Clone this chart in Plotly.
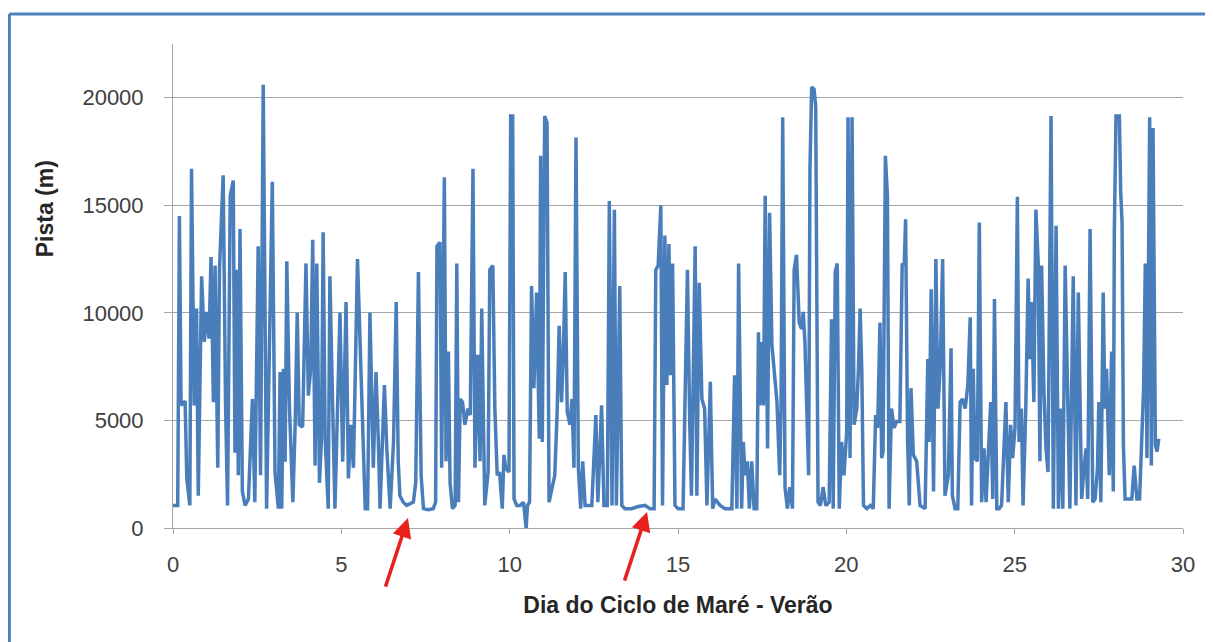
import plotly.graph_objects as go

# Day of tidal cycle (x) and track length in metres (y)
dia = [
    0.00, 0.14, 0.19, 0.24, 0.36, 0.41, 0.50, 0.55, 0.63, 0.70, 0.75, 0.85, 0.93, 1.00, 1.07,
    1.13, 1.20, 1.25, 1.33, 1.38, 1.49, 1.56, 1.62, 1.70, 1.79, 1.84, 1.89, 1.94, 1.99, 2.06,
    2.14, 2.24, 2.36, 2.43, 2.53, 2.60, 2.68, 2.78, 2.95, 3.03, 3.13,
    3.18, 3.23, 3.28, 3.33, 3.38, 3.46, 3.56, 3.63, 3.69, 3.75, 3.85, 3.95, 4.02, 4.09, 4.15,
    4.22, 4.27, 4.35, 4.41, 4.46, 4.52, 4.61, 4.66, 4.74, 4.81, 4.96, 5.04, 5.14, 5.21, 5.28,
    5.36, 5.48, 5.61, 5.71, 5.78, 5.85, 5.95, 6.03, 6.10, 6.15, 6.28, 6.35, 6.45, 6.55, 6.63,
    6.69, 6.74, 6.84, 6.94, 7.14, 7.21, 7.29, 7.37, 7.44, 7.58, 7.73, 7.80, 7.84, 7.93, 7.98,
    8.06, 8.11, 8.18, 8.23, 8.30, 8.38, 8.43, 8.48, 8.53, 8.60, 8.67, 8.76, 8.83, 8.91, 8.97,
    9.05, 9.12, 9.17, 9.26, 9.36, 9.41, 9.50, 9.56, 9.63, 9.70, 9.78, 9.83, 9.88, 9.98, 10.03,
    10.09, 10.13, 10.21, 10.31, 10.41, 10.49, 10.53, 10.59, 10.65, 10.72, 10.80, 10.88, 10.92,
    10.97, 11.04, 11.11, 11.17, 11.24, 11.34, 11.41, 11.47, 11.54, 11.59, 11.65, 11.71, 11.79,
    11.85, 11.91, 11.97, 12.04, 12.11, 12.17, 12.24, 12.34, 12.44, 12.56, 12.62, 12.73, 12.80,
    12.90, 12.96, 13.04, 13.11, 13.17, 13.27, 13.33,
    13.42, 13.62, 13.82, 14.02, 14.17, 14.29, 14.34, 14.41, 14.49, 14.54, 14.61, 14.67, 14.73,
    14.78, 14.84, 14.91, 15.00, 15.15, 15.28, 15.35, 15.40, 15.51, 15.56, 15.63, 15.71, 15.79,
    15.86, 15.96, 16.03, 16.10, 16.25, 16.40, 16.60, 16.68, 16.75, 16.80,
    16.89, 16.94, 16.99, 17.06, 17.12, 17.19, 17.26, 17.34, 17.39, 17.43, 17.49, 17.54, 17.59,
    17.66, 17.72, 17.79, 17.86, 17.94, 18.02, 18.06, 18.11, 18.18, 18.25, 18.32, 18.40, 18.45,
    18.52, 18.60, 18.67, 18.72, 18.77, 18.82, 18.88, 18.92, 18.97, 19.04, 19.09, 19.16, 19.23,
    19.31, 19.39, 19.49, 19.56, 19.61, 19.67, 19.73, 19.79, 19.86, 19.93, 20.01, 20.05, 20.11,
    20.17, 20.23, 20.31,
    20.36, 20.41, 20.46, 20.51, 20.61, 20.71, 20.80, 20.87, 20.93, 21.00, 21.05, 21.09, 21.16,
    21.22, 21.27, 21.34, 21.42, 21.49, 21.59, 21.66, 21.72, 21.76, 21.82, 21.87, 21.92, 21.99,
    22.09, 22.19, 22.34, 22.42, 22.46, 22.52, 22.59, 22.66, 22.72, 22.79, 22.86, 22.93, 23.03,
    23.11, 23.15, 23.23, 23.31, 23.38, 23.45, 23.53, 23.61, 23.68, 23.72, 23.77, 23.82,
    23.89, 23.95, 24.02, 24.09, 24.15, 24.22, 24.29, 24.35, 24.40, 24.47, 24.54, 24.61, 24.66,
    24.74, 24.81, 24.88, 24.94, 25.01, 25.08, 25.13, 25.20, 25.25, 25.33, 25.40, 25.45, 25.50,
    25.57, 25.63, 25.70, 25.75, 25.80, 25.87, 25.93, 25.99, 26.08, 26.15, 26.23, 26.30, 26.37,
    26.43, 26.50, 26.57, 26.64, 26.74, 26.82, 26.89,
    26.99, 27.06, 27.12, 27.17, 27.24, 27.32, 27.39, 27.46, 27.50, 27.56, 27.63, 27.68, 27.73,
    27.81, 27.88, 27.93, 27.96, 28.01, 28.11, 28.15, 28.19, 28.23, 28.28, 28.38, 28.48, 28.55,
    28.63, 28.71, 28.78, 28.83, 28.88, 28.93, 29.01, 29.06, 29.11, 29.18, 29.23, 29.28,
]

pista = [
    1050, 1050, 14500, 5700, 5900, 2300, 1050, 16700, 5700, 10200, 1500, 11700, 8650, 10050, 8800,
    12600, 5850, 12200, 2800, 12000, 16400, 5850, 1050, 15450, 16150, 3500, 12000, 2450, 13900, 1700,
    1050, 1350, 6000, 1200, 13100, 2450, 20600, 900, 16100, 2600, 900,
    7250, 900, 7400, 3080, 12400, 5550, 1200, 4900, 10000, 4800, 4700, 12300, 6150, 7400, 13400,
    2900, 12300, 2100, 4150, 13750, 4150, 900, 11700, 5850, 900, 10000, 3080, 10500, 2300, 4800,
    2800, 12500, 5550, 900, 900, 10000, 2800, 7250, 4000, 900, 6650, 3700, 900, 4000, 10500,
    3100, 1500, 1200, 1050, 1200, 2100, 11900, 2450, 900, 850, 900, 1200, 13100, 13280, 2800,
    16300, 3100, 8200, 2100, 900, 1050, 12300, 1200, 6000, 5850, 4800, 5550, 5250, 16700, 2800,
    8050, 3100, 10200, 1050, 2600, 12000, 12200, 5550, 2450, 2600, 900, 3400, 2800, 2600, 19150,
    19150, 1350, 1050, 1050, 1200, 0, 1050, 1200, 11250, 6500, 10950, 4150, 17300,
    4000, 19150, 18850, 1200, 1700, 2450, 5400, 9400, 5850, 7850, 11900, 5400, 4800,
    6000, 2800, 18150, 2800, 900, 3100, 1050, 1050, 1050, 5250, 1200, 5700, 1050,
    1050, 15200, 1050, 14800, 1050, 11250, 1050,
    900, 900, 1000, 1050, 900, 900, 12000, 12200, 15000, 1050, 13600, 6650, 13200,
    7100, 12300, 1050, 900, 900, 12000, 4800, 1500, 13100, 1500, 11400, 6000, 5550,
    1050, 6800, 900, 1350, 1050, 900, 900, 7100, 900, 12300,
    900, 4000, 2450, 3100, 900, 3100, 900, 900, 9100, 5700, 8650, 5700, 15450,
    3700, 14650, 8500, 7100, 5850, 2450, 5550, 19100, 1850, 900, 1900, 900, 12000,
    12700, 9550, 9250, 10050, 8650, 5550, 2450, 16700, 20500, 20400, 19600, 1200, 1050,
    1900, 1050, 1200, 9700, 900, 11900, 12300, 900, 4000, 2450, 4450, 19100, 3250,
    19100, 4800, 5550,
    7400, 10200, 7250, 1050, 900, 1050, 900, 5250, 4650, 9550, 3250, 3550, 17300,
    15450, 900, 5550, 4650, 4950, 4950, 12300, 12200, 14350, 4000, 1050, 6500, 3400,
    3100, 1050, 900, 7850, 4000, 11100, 1700, 12500, 5550, 7550, 12500, 1500, 2450,
    8350, 1500, 900, 900, 5850, 6000, 5550, 6650, 9800, 1050, 7400, 3250,
    3100, 14200, 1200, 3700, 1200, 3550, 5850, 1350, 10650, 900, 900, 1050, 2900,
    5850, 1200, 4800, 3250, 4650, 15400, 4000, 5550, 1050, 5550, 11600, 7850, 10500,
    5850, 14800, 12300, 3100, 12200, 6330, 3700, 2600, 19150, 900, 14050, 900, 5550,
    900, 12200, 5550, 900, 11700, 1050, 10950,
    1350, 2800, 3700, 1350, 13900, 1200, 1350, 2800, 5850, 1200, 10950, 5550, 7400,
    2450, 8200, 1700, 13700, 19150, 19150, 15600, 14200, 3850, 1350, 1350, 1350, 2900,
    1350, 1350, 4000, 6500, 12300, 3250, 19100, 2900, 18600, 3850, 3550, 4150,
]

x_ticks = [0, 5, 10, 15, 20, 25, 30]
y_ticks = [0, 5000, 10000, 15000, 20000]
y_tick_labels = ["0", "5000", "10000", "15000", "20000"]

x_title = "Dia do Ciclo de Maré - Verão"
y_title = "Pista (m)"

# arrows marking the low-activity periods (day, value at the arrow head)
arrow_days = [6.98, 14.08]
arrow_vals = [460, 740]

fig = go.Figure()
fig.add_trace(go.Scatter(
    x=dia, y=pista, mode="lines",
    line=dict(color="#4A7EBB", width=3.5),
    hoverinfo="skip", showlegend=False,
))

for d, v in zip(arrow_days, arrow_vals):
    fig.add_annotation(
        x=d, y=v, xref="x", yref="y", ax=-23, ay=70,
        showarrow=True, arrowhead=2, arrowsize=1.1, arrowwidth=3.5,
        arrowcolor="#E8201E", text="",
    )

fig.add_annotation(
    x=-0.127, y=0.66, xref="paper", yref="paper", text="<b>" + y_title + "</b>",
    xanchor="center", yanchor="middle",
    textangle=-90, showarrow=False, font=dict(family="Liberation Sans", size=23, color="#262626"),
)

# outer blue frame (top and left edges visible)
fig.add_shape(type="line", xref="paper", yref="paper", x0=-0.162, x1=1.05, y0=1.062, y1=1.062,
              line=dict(color="#4F81BD", width=3))
fig.add_shape(type="line", xref="paper", yref="paper", x0=-0.162, x1=-0.162, y0=1.062, y1=-0.3,
              line=dict(color="#4F81BD", width=3))

fig.update_layout(
    width=1205, height=634,
    margin=dict(l=165, r=30, t=36, b=114),
    paper_bgcolor="white", plot_bgcolor="white",
    font=dict(family="Liberation Sans", color="#404040"),
    hovermode=False,
)
fig.update_xaxes(
    range=[0, 30], tickvals=x_ticks, showgrid=False,
    showline=True, linecolor="#A6A6A6", linewidth=1,
    ticks="outside", ticklen=5, tickcolor="#A6A6A6",
    ticklabelstandoff=12,
    tickfont=dict(size=22, color="#404040"),
    title=dict(text="<b>" + x_title + "</b>", font=dict(size=23, color="#262626"), standoff=20),
    zeroline=False,
)
fig.update_yaxes(
    range=[0, 22500], tickvals=y_ticks, ticktext=y_tick_labels,
    showgrid=True, gridcolor="#A6A6A6", gridwidth=1,
    showline=True, linecolor="#A6A6A6", linewidth=1,
    ticks="outside", ticklen=8, tickcolor="#A6A6A6",
    ticklabelstandoff=16,
    tickfont=dict(size=22, color="#404040"),
    zeroline=False,
)

fig.write_html("out.html", config={"displayModeBar": False})
